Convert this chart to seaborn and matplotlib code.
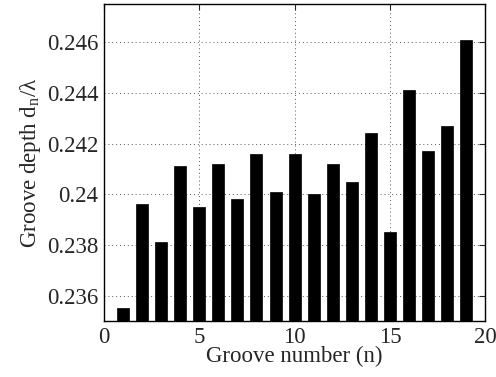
import matplotlib
matplotlib.use("Agg")
import matplotlib.pyplot as plt
import seaborn as sns
import pandas as pd

# Groove index and normalised groove depth
groove_n = list(range(1, 20))
depth = [0.2355, 0.2396, 0.2381, 0.2411, 0.2395, 0.2412, 0.2398, 0.2416, 0.2401,
         0.2416, 0.2400, 0.2412, 0.2405, 0.2424, 0.2385, 0.2441, 0.2417, 0.2427, 0.2461]
x_ticks = [0, 5, 10, 15, 20]
y_ticks = [0.236, 0.238, 0.240, 0.242, 0.244, 0.246]
y_tick_labels = ["0.236", "0.238", "0.24", "0.242", "0.244", "0.246"]

sns.set_style("white")
plt.rcParams["font.family"] = ["Liberation Serif", "DejaVu Serif"]
plt.rcParams["mathtext.fontset"] = "custom"
plt.rcParams["mathtext.rm"] = "Liberation Serif"
plt.rcParams["mathtext.it"] = "Liberation Serif"

df = pd.DataFrame({"n": groove_n, "depth": depth})

fig = plt.figure(figsize=(4.96, 3.77), dpi=100)
ax = fig.add_axes([0.2097, 0.1485, 0.7685, 0.8405])

sns.barplot(data=df, x="n", y="depth", native_scale=True, width=0.63,
            color="black", saturation=1, edgecolor="black", linewidth=0.5, ax=ax)

ax.set_xlim(0, 20)
ax.set_ylim(0.235, 0.2475)
ax.set_xticks(x_ticks)
ax.set_xticklabels([str(t) for t in x_ticks])
ax.set_yticks(y_ticks)
ax.set_yticklabels(y_tick_labels)
ax.grid(True, linestyle=(0, (1, 3)), color="#555555", linewidth=0.7)
ax.set_axisbelow(True)
ax.tick_params(direction="in", top=True, right=True, labelsize=16.5, length=4,
               width=0.8, pad=4)
for s in ax.spines.values():
    s.set_linewidth(1.0)
    s.set_color("black")

ax.set_xlabel("Groove number (n)", fontsize=16.5, labelpad=-1)
ax.set_ylabel(r"Groove depth d$_{\mathrm{n}}$/$\lambda$", fontsize=16.5, labelpad=3)

fig.savefig("out.png", dpi=100)
